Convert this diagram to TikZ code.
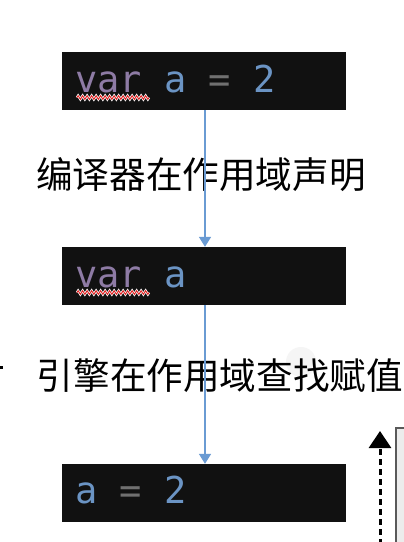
\documentclass[tikz,border=0pt]{standalone}
\usepackage{fontspec}
\newfontfamily\cjk{Noto Sans CJK SC}
\setmonofont{DejaVu Sans Mono}
\usetikzlibrary{arrows.meta,decorations.pathmorphing,positioning}

\definecolor{codebg}{HTML}{111111}
\definecolor{kwcol}{HTML}{8E7BA5}
\definecolor{idcol}{HTML}{6B94C4}
\definecolor{opcol}{HTML}{707070}
\definecolor{flowcol}{HTML}{6A9BD3}
\definecolor{squig}{HTML}{E02424}

\tikzset{
  codebox/.style={fill=codebg,minimum width=284pt,minimum height=58pt,inner sep=0pt},
  codetext/.style={font=\fontsize{37}{40}\selectfont\ttfamily,inner sep=0pt,anchor=base west},
  steptext/.style={font=\fontsize{36.6}{40}\selectfont\cjk,inner sep=0pt},
  flow/.style={draw=flowcol,line width=1.6pt,-{Triangle[width=12pt,length=10pt]}},
  wavy/.style={decorate,decoration={zigzag,segment length=4.5pt,amplitude=1.8pt}}
}

\begin{document}
\begin{tikzpicture}[x=1pt,y=-1pt]
  \clip (0,0) rectangle (404,542);
  \fill[white] (0,0) rectangle (404,542);

  % faint circle behind the second label
  \fill[gray!8] (301,362) circle (15);

  % code boxes
  \node[codebox] (B1) at (204,81) {};
  \node[codebox] (B2) at (204,276) {};
  \node[codebox] (B3) at (204,493) {};

  \node[codetext] (C1) at (75,92) {\textcolor{kwcol}{var} \textcolor{idcol}{a} \textcolor{opcol}{=} \textcolor{idcol}{2}};
  \node[codetext] (C2) at (75,287) {\textcolor{kwcol}{var} \textcolor{idcol}{a}};
  \node[codetext] (C3) at (75,503) {\textcolor{idcol}{a} \textcolor{opcol}{=} \textcolor{idcol}{2}};

  % spell-check squiggles under "var"
  \foreach \y in {97.5,292.5} {
    \draw[white,line width=2.4pt,wavy] (77,\y) -- (149,\y);
    \draw[squig,line width=1pt,wavy] (77,\y) -- (149,\y);
  }

  % labels
  \node[steptext] (L1) at (201,175) {编译器在作用域声明};
  \node[steptext] (L2) at (220,376) {引擎在作用域查找赋值};

  % arrows
  \draw[flow] ([xshift=1pt]B1.south) -- ([xshift=1pt]B2.north);
  \draw[flow] ([xshift=1pt]B2.south) -- ([xshift=1pt]B3.north);

  % clipped parts at the edges
  \fill (0,366) rectangle (2.5,368.5);
  \coordinate (U0) at (380,545);
  \coordinate (U1) at (380,431);
  \draw[line width=3pt,dash pattern=on 6pt off 4pt,-{Triangle[width=22pt,length=17pt]}] (U0) -- (U1);
  \draw[fill=gray!15,draw=gray!70!black,line width=1.5pt] (396,428) rectangle (430,560);
\end{tikzpicture}
\end{document}
